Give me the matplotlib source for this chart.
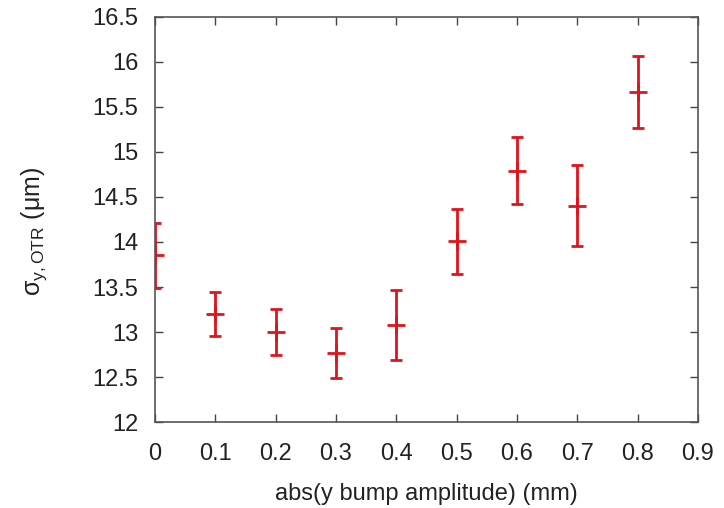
"""sigma_y at the OTR versus the y-bump amplitude, with error bars."""
import matplotlib
matplotlib.use("Agg")
import matplotlib.pyplot as plt

plt.rcParams.update({"font.family": ["Liberation Sans", "DejaVu Sans"],
                     "font.size": 17, "mathtext.fontset": "custom",
                     "mathtext.rm": "Liberation Sans",
                     "mathtext.it": "Liberation Sans:italic"})

# values
bump_mm = [0.0, 0.1, 0.2, 0.3, 0.4, 0.5, 0.6, 0.7, 0.8]
sigma_um = [13.85, 13.20, 13.00, 12.77, 13.08, 14.01, 14.79, 14.40, 15.67]
sigma_err = [0.36, 0.24, 0.26, 0.28, 0.39, 0.36, 0.37, 0.45, 0.40]

x_ticks = [0, 0.1, 0.2, 0.3, 0.4, 0.5, 0.6, 0.7, 0.8, 0.9]
y_ticks = [12, 12.5, 13, 13.5, 14, 14.5, 15, 15.5, 16, 16.5]

TXT = "#222222"
RED = "#e0141c"

fig = plt.figure(figsize=(7.24, 5.08), dpi=100)
ax = fig.add_axes([0.214, 0.169, 0.750, 0.798])

ax.errorbar(bump_mm, sigma_um, yerr=sigma_err, fmt="+", color=RED,
            ms=13, mew=2, elinewidth=2, capsize=4.5, capthick=2)

ax.set_xlim(0, 0.9)
ax.set_ylim(12, 16.5)
ax.set_xticks(x_ticks)
ax.set_xticklabels([f"{v:g}" for v in x_ticks])
ax.set_yticks(y_ticks)
ax.set_yticklabels([f"{v:g}" for v in y_ticks])
ax.tick_params(direction="in", length=6, width=1, color="#444444",
               top=True, right=True, labelcolor=TXT, labelsize=17)
ax.tick_params(axis="x", pad=15)
ax.tick_params(axis="y", pad=12)
for s in ax.spines.values():
    s.set_color("#555555")
    s.set_linewidth(1.2)

ax.set_xlabel("abs(y bump amplitude) (mm)", color=TXT, fontsize=17)
ax.xaxis.set_label_coords(0.5, -0.15)
ax.set_ylabel(r"σ$_{\mathrm{y,OTR}}$ (μm)", color=TXT, fontsize=18)
ax.yaxis.set_label_coords(-0.195, 0.47)

fig.savefig("out.png", dpi=100)
